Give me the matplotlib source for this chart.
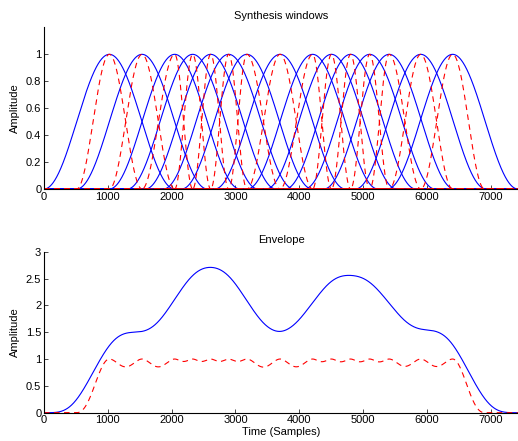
import numpy as np
import matplotlib.pyplot as plt

plt.rcParams['font.family'] = ['Liberation Sans', 'DejaVu Sans']
plt.rcParams['font.size'] = 8

# window centres (samples)
centers = [1024, 1536, 2048, 2330, 2612, 2894, 3180, 3700,
           4210, 4505, 4805, 5105, 5410, 5905, 6405]
win_len = 2048          # analysis window length (Hann)
sig_len = 7430          # length of the time axis

t = np.arange(sig_len)

# analysis windows (blue): Hann of fixed length around each centre
def hann_at(c, half):
    w = np.zeros(sig_len)
    m = np.abs(t - c) < half
    w[m] = np.cos(np.pi * (t[m] - c) / (2 * half)) ** 2
    return w

# synthesis windows (red): raised cosine from previous to next centre
def synth_at(i):
    c = centers[i]
    left = c - centers[i - 1] if i > 0 else centers[1] - centers[0]
    right = centers[i + 1] - c if i < len(centers) - 1 else c - centers[i - 1]
    w = np.zeros(sig_len)
    ml = (t <= c) & (t > c - left)
    mr = (t > c) & (t < c + right)
    w[ml] = np.cos(np.pi * (t[ml] - c) / (2 * left)) ** 2
    w[mr] = np.cos(np.pi * (t[mr] - c) / (2 * right)) ** 2
    return w

ana = [hann_at(c, win_len // 2) for c in centers]
syn = [synth_at(i) for i in range(len(centers))]

env_blue = np.sum([a * a for a in ana], axis=0)
env_red = np.sum([a * s for a, s in zip(ana, syn)], axis=0)

fig = plt.figure(figsize=(5.18, 4.41), dpi=100)
ax1 = fig.add_axes([0.085, 0.5714, 0.915, 0.3665])
ax2 = fig.add_axes([0.085, 0.0642, 0.915, 0.3651])

for a in ana:
    ax1.plot(t, a, color='b', lw=0.8)
for s in syn:
    ax1.plot(t, s, color='r', lw=0.8, ls=(0, (5, 4)))
ax1.set_xlim(0, sig_len)
ax1.set_ylim(0, 1.2)
ax1.set_yticks([0, 0.2, 0.4, 0.6, 0.8, 1])
ax1.set_yticklabels(['0', '0.2', '0.4', '0.6', '0.8', '1'])
ax1.set_ylabel('Amplitude')
ax1.set_title('Synthesis windows', fontsize=8)

ax2.plot(t, env_blue, color='b', lw=0.8)
ax2.plot(t, env_red, color='r', lw=0.8, ls=(0, (5, 4)))
ax2.set_xlim(0, sig_len)
ax2.set_ylim(0, 3)
ax2.set_yticks([0, 0.5, 1, 1.5, 2, 2.5, 3])
ax2.set_yticklabels(['0', '0.5', '1', '1.5', '2', '2.5', '3'])
ax2.set_ylabel('Amplitude')
ax2.set_xlabel('Time (Samples)', labelpad=1)
ax2.set_title('Envelope', fontsize=8)

for ax in (ax1, ax2):
    ax.set_xticks(range(0, 8000, 1000))
    ax.spines['top'].set_visible(False)
    ax.spines['right'].set_visible(False)
    ax.tick_params(direction='in', length=3, width=0.5, pad=2)
    ax.spines['left'].set_linewidth(0.8)
    ax.spines['bottom'].set_linewidth(0.8)

fig.savefig('out.png', dpi=100)
